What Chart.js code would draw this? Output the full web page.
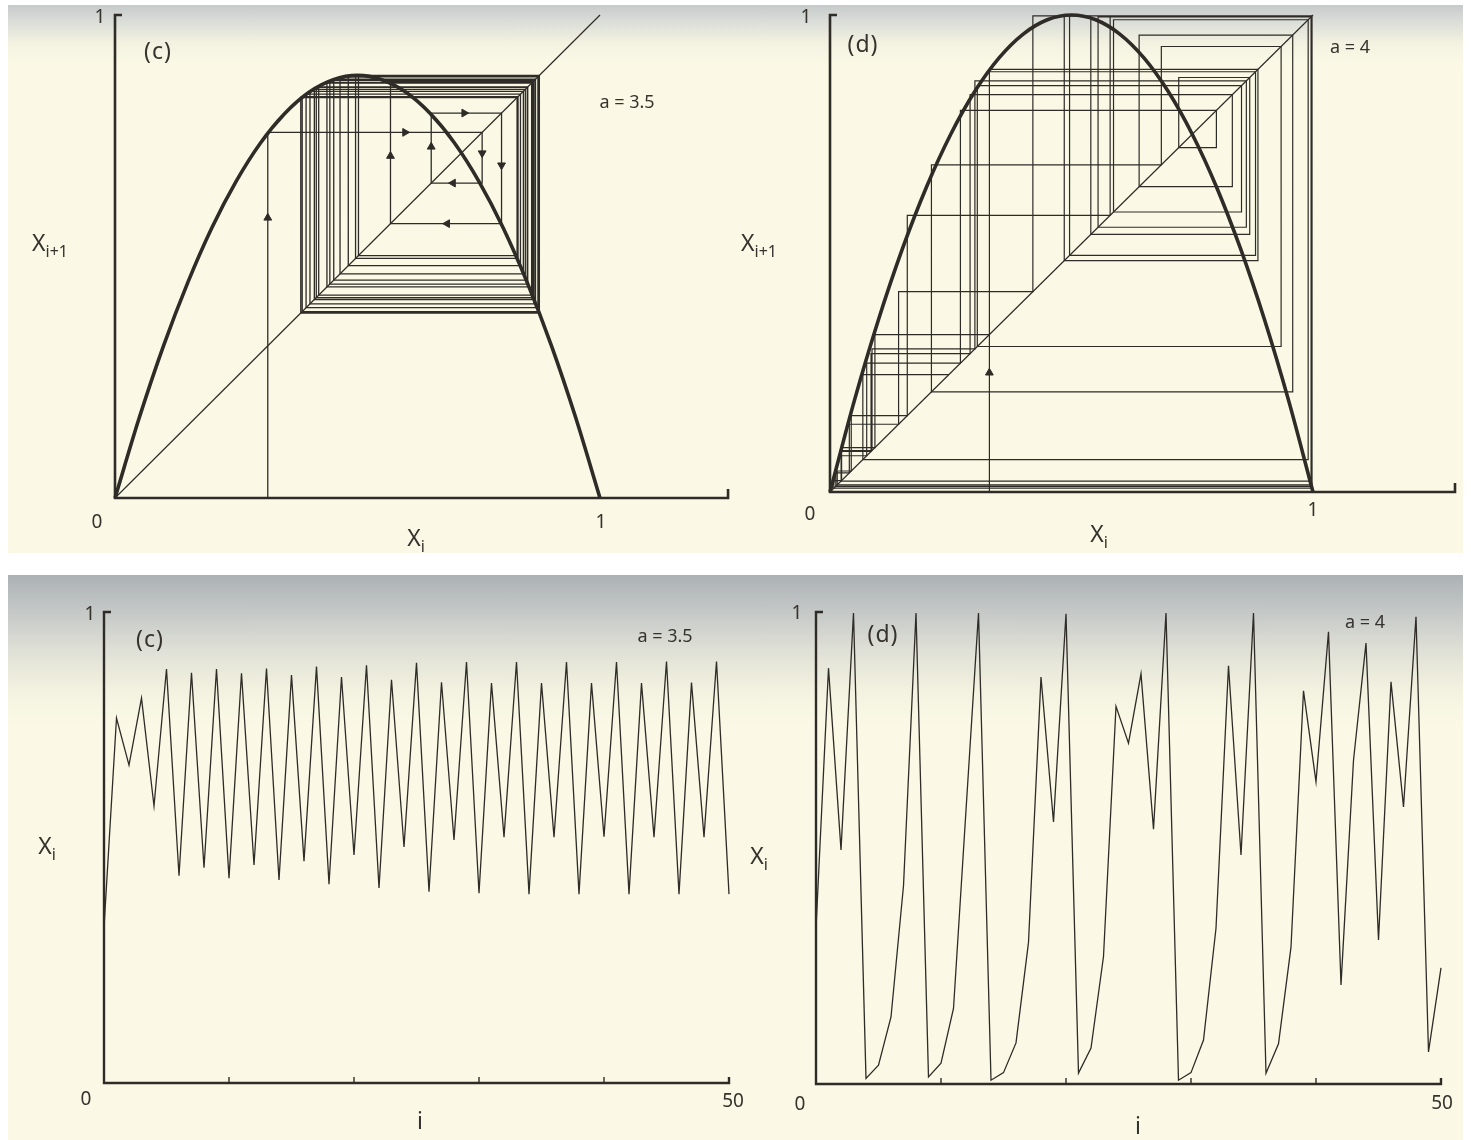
<!DOCTYPE html>
<html>
<head>
<meta charset="utf-8">
<script src="https://cdn.jsdelivr.net/npm/chart.js@4.4.1/dist/chart.umd.min.js"></script>
<style>
  html, body { margin: 0; padding: 0; background: #ffffff; }
  body { width: 1471px; height: 1140px; position: relative; overflow: hidden; font-family: "Noto Sans", "DejaVu Sans", sans-serif; color: #36322d; }
  .sheet { position: absolute; }
  #sheetTop { left: 8px; top: 5px; width: 1455px; height: 548px;
    background: linear-gradient(to bottom, #c6cacb 0px, #dcdfd9 18px, #f3f2e1 38px, #fbf9e6 60px, #fbf9e6 100%); }
  #sheetBottom { left: 8px; top: 575px; width: 1455px; height: 565px;
    background: linear-gradient(to bottom, #acb1b5 0px, #c3c7c6 35px, #dfe0d6 75px, #f3f2e0 115px, #fbf9e6 150px, #fbf9e6 100%); }
  canvas { position: absolute; }
  .lbl { position: absolute; transform: translate(-50%, -50%); white-space: nowrap; line-height: 1; }
  .num { font-size: 19px; }
  .tag { font-size: 23px; letter-spacing: 1px; }
  .par { font-size: 18px; }
  .ax { font-size: 23px; }
  .ax sub { font-size: 16px; vertical-align: -6px; }
</style>
</head>
<body>
<div id="sheetTop" class="sheet"></div>
<div id="sheetBottom" class="sheet"></div>

<canvas id="cobwebC" width="740" height="555" style="left:0;top:0"></canvas>
<canvas id="cobwebD" width="731" height="555" style="left:740px;top:0"></canvas>
<canvas id="timeC" width="740" height="565" style="left:0;top:575px"></canvas>
<canvas id="timeD" width="731" height="565" style="left:740px;top:575px"></canvas>

<!-- cobweb (c) -->
<div class="lbl num" style="left:100px;top:16px">1</div>
<div class="lbl tag" style="left:158px;top:50px">(c)</div>
<div class="lbl par" style="left:627px;top:101px">a = 3.5</div>
<div class="lbl ax" style="left:50px;top:245px">X<sub>i+1</sub></div>
<div class="lbl num" style="left:97px;top:521px">0</div>
<div class="lbl num" style="left:601px;top:521px">1</div>
<div class="lbl ax" style="left:416px;top:540px">X<sub>i</sub></div>

<!-- cobweb (d) -->
<div class="lbl num" style="left:806px;top:16px">1</div>
<div class="lbl tag" style="left:863px;top:43px">(d)</div>
<div class="lbl par" style="left:1350px;top:46px">a = 4</div>
<div class="lbl ax" style="left:759px;top:245px">X<sub>i+1</sub></div>
<div class="lbl num" style="left:810px;top:513px">0</div>
<div class="lbl num" style="left:1313px;top:509px">1</div>
<div class="lbl ax" style="left:1099px;top:536px">X<sub>i</sub></div>

<!-- time series (c) -->
<div class="lbl num" style="left:90px;top:613px">1</div>
<div class="lbl tag" style="left:150px;top:638px">(c)</div>
<div class="lbl par" style="left:665px;top:635px">a = 3.5</div>
<div class="lbl ax" style="left:47px;top:848px">X<sub>i</sub></div>
<div class="lbl num" style="left:86px;top:1098px">0</div>
<div class="lbl num" style="left:733px;top:1100px">50</div>
<div class="lbl ax" style="left:420px;top:1120px">i</div>

<!-- time series (d) -->
<div class="lbl num" style="left:797px;top:612px">1</div>
<div class="lbl tag" style="left:883px;top:633px">(d)</div>
<div class="lbl par" style="left:1365px;top:621px">a = 4</div>
<div class="lbl ax" style="left:759px;top:858px">X<sub>i</sub></div>
<div class="lbl num" style="left:800px;top:1103px">0</div>
<div class="lbl num" style="left:1442px;top:1102px">50</div>
<div class="lbl ax" style="left:1138px;top:1125px">i</div>

<script>
// logistic map iterates, x_i for i = 0..50
const seriesC = [0.33, 0.775, 0.675, 0.817, 0.588, 0.879, 0.44, 0.871, 0.457, 0.879,
  0.435, 0.870, 0.463, 0.880, 0.431, 0.866, 0.471, 0.884, 0.422, 0.862,
  0.484, 0.887, 0.414, 0.856, 0.501, 0.892, 0.406, 0.851, 0.516, 0.894,
  0.403, 0.849, 0.522, 0.894, 0.401, 0.849, 0.522, 0.894, 0.401, 0.849,
  0.523, 0.894, 0.401, 0.849, 0.522, 0.895, 0.401, 0.850, 0.522, 0.895, 0.401];

const seriesD = [0.33, 0.881, 0.496, 0.998, 0.012, 0.04, 0.142, 0.42, 0.998, 0.015,
  0.044, 0.16, 0.58, 0.998, 0.008, 0.024, 0.087, 0.30, 0.862, 0.555,
  0.996, 0.023, 0.076, 0.27, 0.80, 0.722, 0.869, 0.54, 0.998, 0.008,
  0.024, 0.093, 0.33, 0.886, 0.485, 0.998, 0.023, 0.085, 0.29, 0.833,
  0.64, 0.958, 0.21, 0.686, 0.934, 0.305, 0.852, 0.587, 0.99, 0.068, 0.246];

// orbit traced on the a = 3.5 cobweb
const orbitC = [0.315, 0.757, 0.652, 0.797, 0.568, 0.862, 0.42, 0.851, 0.437, 0.859,
  0.415, 0.85, 0.443, 0.86, 0.411, 0.846, 0.451, 0.864, 0.402, 0.842,
  0.464, 0.867, 0.394, 0.836, 0.481, 0.872, 0.386, 0.831, 0.496, 0.874,
  0.383, 0.829, 0.502, 0.874, 0.383, 0.829, 0.502, 0.874, 0.383, 0.829,
  0.502, 0.874, 0.383, 0.829, 0.502, 0.875, 0.383, 0.83, 0.502, 0.875, 0.383];

// the map curves x_{i+1} against x_i
const curveX = [0, 0.05, 0.1, 0.15, 0.2, 0.25, 0.3, 0.35, 0.4, 0.45, 0.5,
  0.55, 0.6, 0.65, 0.7, 0.75, 0.8, 0.85, 0.9, 0.95, 1];
const curveC = [0, 0.166, 0.315, 0.446, 0.56, 0.656, 0.735, 0.796, 0.84, 0.866, 0.875,
  0.866, 0.84, 0.796, 0.735, 0.656, 0.56, 0.446, 0.315, 0.166, 0];
const curveD = [0, 0.19, 0.36, 0.51, 0.64, 0.75, 0.84, 0.91, 0.96, 0.99, 1,
  0.99, 0.96, 0.91, 0.84, 0.75, 0.64, 0.51, 0.36, 0.19, 0];

// direction arrows on the first steps (rotation: 0 up, 90 right, 180 down, 270 left)
const arrowCX = [0.315, 0.598, 0.568, 0.652, 0.72, 0.757, 0.797, 0.697, 0.685];
const arrowCY = [0.58, 0.757, 0.708, 0.727, 0.797, 0.714, 0.689, 0.652, 0.568];
const arrowCRot = [0, 90, 0, 0, 90, 180, 180, 270, 270];
const arrowDX = [0.33];
const arrowDY = [0.25];
const arrowDRot = [0];

const timeTicks = [10, 20, 30, 40];
const ink = '#2f2b27';

function cobwebPath(orbit) {
  const pts = [{ x: orbit[0], y: 0 }];
  for (let i = 0; i < orbit.length - 1; i++) {
    pts.push({ x: orbit[i], y: orbit[i + 1] });
    pts.push({ x: orbit[i + 1], y: orbit[i + 1] });
  }
  return pts;
}

function zipXY(xs, ys) {
  return xs.map((x, k) => ({ x: x, y: ys[k] }));
}

// hand-drawn style axes: bracket at the top of y, small upturn at the end of x
const frameAxes = {
  id: 'frameAxes',
  beforeDatasetsDraw(chart, args, opts) {
    const { ctx, scales } = chart;
    const x = scales.x, y = scales.y;
    const x0 = x.getPixelForValue(0), y0 = y.getPixelForValue(0);
    const yTop = y.getPixelForValue(opts.yTop), xEnd = x.getPixelForValue(opts.xEnd);
    ctx.save();
    ctx.strokeStyle = ink;
    ctx.lineWidth = opts.width;
    ctx.lineJoin = 'miter';
    ctx.beginPath();
    ctx.moveTo(x0 + 7, yTop);
    ctx.lineTo(x0, yTop);
    ctx.lineTo(x0, y0);
    ctx.lineTo(xEnd, y0);
    ctx.lineTo(xEnd, y0 - opts.endTick);
    ctx.stroke();
    ctx.lineWidth = 1.4;
    (opts.ticks || []).forEach(t => {
      const px = x.getPixelForValue(t);
      ctx.beginPath();
      ctx.moveTo(px, y0);
      ctx.lineTo(px, y0 - 6);
      ctx.stroke();
    });
    ctx.restore();
  }
};

function baseOptions(pad, xMax, axes) {
  return {
    responsive: false,
    animation: false,
    devicePixelRatio: 1,
    events: [],
    layout: { padding: pad },
    scales: {
      x: { type: 'linear', display: false, min: 0, max: xMax },
      y: { type: 'linear', display: false, min: 0, max: 1 }
    },
    plugins: { legend: { display: false }, tooltip: { enabled: false }, frameAxes: axes }
  };
}

function lineSet(data, width, extra) {
  return Object.assign({
    data: data, showLine: true, borderColor: ink, borderWidth: width,
    pointRadius: 0, tension: 0, clip: false, fill: false
  }, extra || {});
}

function arrowSet(xs, ys, rots) {
  return {
    data: zipXY(xs, ys), showLine: false, pointStyle: 'triangle',
    pointRadius: 4.5, rotation: rots, backgroundColor: ink, borderColor: ink,
    borderWidth: 1, clip: false
  };
}

// cobweb, a = 3.5
new Chart(document.getElementById('cobwebC'), {
  type: 'scatter',
  data: {
    datasets: [
      lineSet([{ x: 0, y: 0 }, { x: 1, y: 1 }], 1.2),
      lineSet(cobwebPath(orbitC), 1.3),
      lineSet(zipXY(curveX, curveC), 3.6, { cubicInterpolationMode: 'monotone' }),
      arrowSet(arrowCX, arrowCY, arrowCRot)
    ]
  },
  options: baseOptions({ left: 115, top: 15, right: 140, bottom: 57 }, 1,
    { xEnd: 1.264, yTop: 1, width: 2.6, endTick: 9 }),
  plugins: [frameAxes]
});

// cobweb, a = 4
new Chart(document.getElementById('cobwebD'), {
  type: 'scatter',
  data: {
    datasets: [
      lineSet([{ x: 0, y: 0 }, { x: 1, y: 1 }], 1.2),
      lineSet(cobwebPath(seriesD), 1.2),
      lineSet(zipXY(curveX, curveD), 3.6, { cubicInterpolationMode: 'monotone' }),
      arrowSet(arrowDX, arrowDY, arrowDRot)
    ]
  },
  options: baseOptions({ left: 90, top: 15, right: 158, bottom: 63 }, 1,
    { xEnd: 1.294, yTop: 1, width: 2.6, endTick: 9 }),
  plugins: [frameAxes]
});

// x_i against i, a = 3.5
new Chart(document.getElementById('timeC'), {
  type: 'scatter',
  data: { datasets: [lineSet(seriesC.map((v, i) => ({ x: i, y: v })), 1.3)] },
  options: baseOptions({ left: 104, top: 37, right: 11, bottom: 57 }, 50,
    { xEnd: 50, yTop: 1, width: 2.4, endTick: 6, ticks: timeTicks }),
  plugins: [frameAxes]
});

// x_i against i, a = 4
new Chart(document.getElementById('timeD'), {
  type: 'scatter',
  data: { datasets: [lineSet(seriesD.map((v, i) => ({ x: i, y: v })), 1.3)] },
  options: baseOptions({ left: 76, top: 37, right: 30, bottom: 56 }, 50,
    { xEnd: 50, yTop: 1, width: 2.4, endTick: 6, ticks: timeTicks }),
  plugins: [frameAxes]
});
</script>
</body>
</html>
